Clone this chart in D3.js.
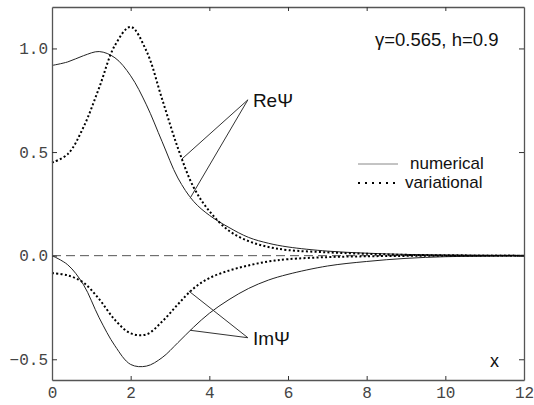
<!DOCTYPE html>
<html>
<head>
<meta charset="utf-8">
<script src="https://cdn.jsdelivr.net/npm/d3@7"></script>
<style>
  body { margin: 0; background: #fff; }
  text { font-family: "Liberation Sans", Arial, sans-serif; }
  .tick text { font-family: "Liberation Mono", "DejaVu Sans Mono", monospace; font-size: 16px; fill: #444; }
</style>
</head>
<body>
<div id="graphic"></div>
<script>
// x grid shared by all four curves
const xs = [0, 0.4, 0.8, 1.2, 1.6, 2.0, 2.4, 2.8, 3.2, 3.6, 4.0, 4.5, 5.0, 5.5, 6, 7, 8, 9, 10, 11, 12];

// values
const reNum = [0.918, 0.935, 0.965, 0.985, 0.955, 0.868, 0.728, 0.55, 0.375, 0.262, 0.195, 0.136, 0.088, 0.06, 0.042, 0.022, 0.012, 0.006, 0.003, 0.001, 0];
const reVar = [0.449, 0.49, 0.62, 0.811, 1.015, 1.104, 0.988, 0.755, 0.52, 0.33, 0.215, 0.12, 0.07, 0.042, 0.027, 0.016, 0.009, 0.004, 0.002, 0.001, 0];
const imNum = [0, -0.044, -0.14, -0.3, -0.435, -0.525, -0.533, -0.492, -0.42, -0.345, -0.278, -0.212, -0.158, -0.118, -0.09, -0.05, -0.028, -0.013, -0.005, -0.002, 0];
const imVar = [-0.084, -0.095, -0.13, -0.21, -0.31, -0.375, -0.38, -0.318, -0.235, -0.158, -0.108, -0.072, -0.047, -0.028, -0.017, -0.007, -0.003, -0.001, 0, 0, 0];

const xTicks = [0, 2, 4, 6, 8, 10, 12];
const yTicks = [-0.5, 0.0, 0.5, 1.0];

// pointer lines: label anchor and the two curve points it points at (data units)
const pointers = [
  {label: "ReΨ", tip: [4.98, 0.752], ends: [[3.3, 0.466], [3.51, 0.277]]},
  {label: "ImΨ", tip: [4.98, -0.396], ends: [[3.48, -0.171], [3.51, -0.36]]}
];

const legendItems = [
  {name: "numerical", dotted: false},
  {name: "variational", dotted: true}
];

const margin = {top: 7, right: 10, bottom: 25, left: 52};
const width = 534 - margin.left - margin.right;
const height = 405 - margin.top - margin.bottom;

const svg = d3.select("#graphic")
    .append("svg")
    .attr("width", width + margin.left + margin.right)
    .attr("height", height + margin.top + margin.bottom)
    .append("g")
        .attr("transform", `translate(${margin.left}, ${margin.top})`);

const x = d3.scaleLinear().domain([0, 12]).range([0, width]);
const y = d3.scaleLinear().domain([-0.6, 1.2]).range([height, 0]);

// zero line
svg.append("line")
    .attr("x1", x(0)).attr("x2", x(12))
    .attr("y1", y(0)).attr("y2", y(0))
    .style("stroke", "#555")
    .style("stroke-dasharray", "9,5");

const line = d3.line()
    .x(d => x(d[0]))
    .y(d => y(d[1]))
    .curve(d3.curveCatmullRom.alpha(0.5));

const series = [
  {vals: reNum, dotted: false},
  {vals: imNum, dotted: false},
  {vals: reVar, dotted: true},
  {vals: imVar, dotted: true}
];

series.forEach(s => {
  svg.append("path")
      .datum(xs.map((xv, i) => [xv, s.vals[i]]))
      .attr("d", line)
      .style("fill", "none")
      .style("stroke", s.dotted ? "#000" : "#222")
      .style("stroke-width", s.dotted ? 2 : 1)
      .style("stroke-dasharray", s.dotted ? "2,2.3" : null);
});

// axes, ticks pointing inward
const axisStyle = g => {
  g.select(".domain").style("stroke", "#555").style("stroke-width", 1.3);
  g.selectAll(".tick line").style("stroke", "#333");
};

svg.append("g")
    .attr("transform", `translate(0, ${height})`)
    .call(d3.axisBottom(x).tickValues(xTicks).tickSizeInner(-4).tickSizeOuter(0).tickPadding(7).tickFormat(d3.format("d")))
    .call(axisStyle);

svg.append("g")
    .call(d3.axisTop(x).tickValues(xTicks.slice(1, -1)).tickSizeInner(-4).tickSizeOuter(0).tickFormat(""))
    .call(axisStyle);

svg.append("g")
    .call(d3.axisLeft(y).tickValues(yTicks).tickSizeInner(-5).tickSizeOuter(0).tickPadding(4).tickFormat(d3.format(".1f")))
    .call(axisStyle);

svg.append("g")
    .attr("transform", `translate(${width}, 0)`)
    .call(d3.axisRight(y).tickValues(yTicks).tickSizeInner(-5).tickSizeOuter(0).tickFormat(""))
    .call(axisStyle);

// pointer lines with labels
pointers.forEach(p => {
  p.ends.forEach(e => {
    svg.append("line")
        .attr("x1", x(p.tip[0])).attr("y1", y(p.tip[1]))
        .attr("x2", x(e[0])).attr("y2", y(e[1]))
        .style("stroke", "#333")
        .style("stroke-width", 1);
  });
  svg.append("text")
      .attr("x", x(p.tip[0]) + 5)
      .attr("y", y(p.tip[1]) + 7)
      .style("font-size", "19px")
      .style("fill", "#111")
      .text(p.label);
});

// legend
const legend = svg.append("g")
    .attr("transform", "translate(306, 157)");

legendItems.forEach((d, i) => {
  legend.append("line")
      .attr("x1", 0).attr("x2", 40)
      .attr("y1", i * 19).attr("y2", i * 19)
      .style("stroke", d.dotted ? "#000" : "#888")
      .style("stroke-width", d.dotted ? 2 : 1)
      .style("stroke-dasharray", d.dotted ? "2,5" : null);
  legend.append("text")
      .attr("x", d.dotted ? 47 : 52)
      .attr("y", i * 19 + 5)
      .style("font-size", "17px")
      .style("fill", "#111")
      .text(d.name);
});

// parameters and axis name
svg.append("text")
    .attr("x", 323).attr("y", 39)
    .style("font-size", "18.5px")
    .style("fill", "#111")
    .text("γ=0.565, h=0.9");

svg.append("text")
    .attr("x", 438).attr("y", 360)
    .style("font-size", "18px")
    .style("fill", "#111")
    .text("x");
</script>
</body>
</html>
